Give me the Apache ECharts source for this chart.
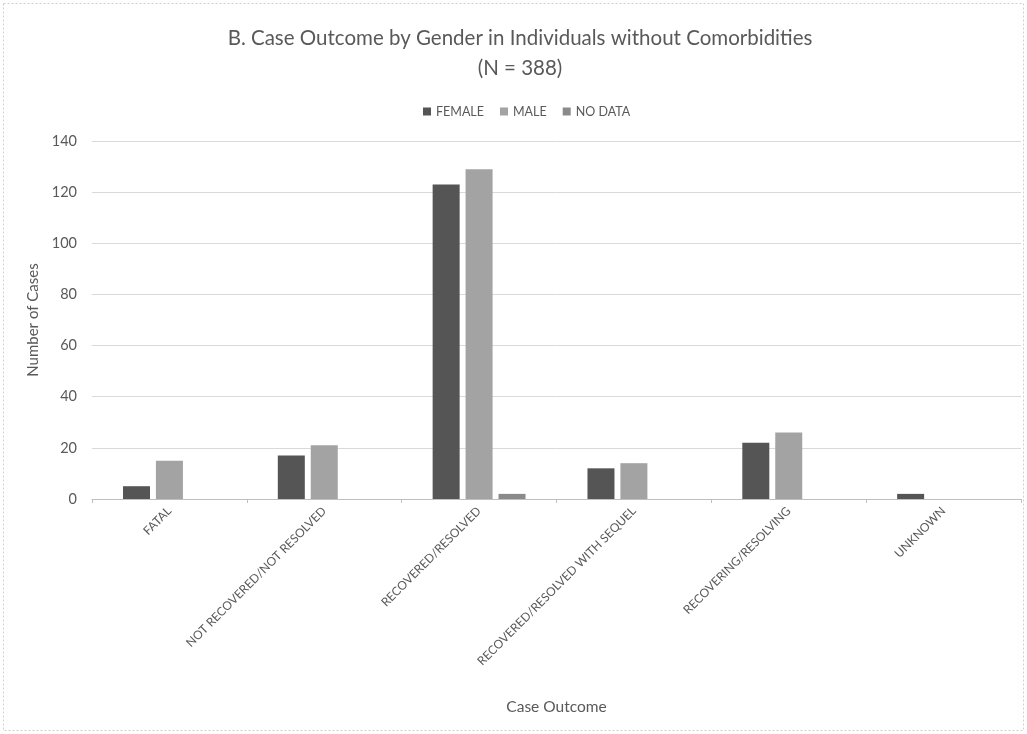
<!DOCTYPE html>
<html><head><meta charset="utf-8">
<script src="https://cdn.jsdelivr.net/npm/echarts@6/dist/echarts.min.js"></script>
<style>html,body{margin:0;padding:0;background:#fff}#c{width:1027px;height:734px}</style>
</head><body><div id="c"></div>
<script>
const categories = ["FATAL","NOT RECOVERED/NOT RESOLVED","RECOVERED/RESOLVED","RECOVERED/RESOLVED WITH SEQUEL","RECOVERING/RESOLVING","UNKNOWN"];
const female = [5, 17, 123, 12, 22, 2];
const male = [15, 21, 129, 14, 26, 0];
const noData = [0, 0, 2, 0, 0, 0];
const seriesNames = ["FEMALE","MALE","NO DATA"];
const colors = ["#555555","#a3a3a3","#8a8a8a"];
const font = "Lato, 'Open Sans', sans-serif";
const chart = echarts.init(document.getElementById('c'));
const mk = (name, data, i) => ({
  name, type: 'bar', data, barWidth: 27, barGap: '22%',
  itemStyle: {color: colors[i]}
});
chart.setOption({
  animation: false,
  textStyle: {fontFamily: font},
  title: {
    text: "B. Case Outcome by Gender in Individuals without Comorbidities\n(N = 388)",
    left: 515, top: 18, textAlign: 'center',
    textStyle: {fontSize: 20.5, fontWeight: 'normal', color: '#595959', lineHeight: 30, fontFamily: font}
  },
  legend: {
    data: seriesNames, top: 100, left: 418, itemWidth: 8, itemHeight: 8, itemGap: 16,
    icon: 'rect', textStyle: {fontSize: 12.5, color: '#595959', fontFamily: font}
  },
  graphic: [{type: 'rect', shape: {x: 3.5, y: 3.5, width: 1020, height: 727},
    style: {fill: 'none', stroke: '#cfcfcf', lineWidth: 1, lineDash: [2, 2]}}],
  grid: {left: 92, right: 6, top: 141, bottom: 235, containLabel: false},
  xAxis: {
    type: 'category', data: categories,
    name: 'Case Outcome', nameLocation: 'middle', nameGap: 200,
    nameTextStyle: {fontSize: 15.5, color: '#595959'},
    axisLine: {lineStyle: {color: '#bfbfbf'}},
    axisTick: {show: true, length: 4, lineStyle: {color: '#bfbfbf'}},
    axisLabel: {rotate: 45, fontSize: 12, color: '#595959', margin: 10, interval: 0}
  },
  yAxis: {
    type: 'value', min: 0, max: 140, interval: 20,
    name: 'Number of Cases', nameLocation: 'middle', nameGap: 42,
    nameTextStyle: {fontSize: 15, color: '#595959'},
    axisLine: {show: false}, axisTick: {show: false},
    axisLabel: {fontSize: 14.5, color: '#595959', margin: 15},
    splitLine: {lineStyle: {color: '#d9d9d9'}}
  },
  series: [mk(seriesNames[0], female, 0), mk(seriesNames[1], male, 1), mk(seriesNames[2], noData, 2)]
});
</script></body></html>
